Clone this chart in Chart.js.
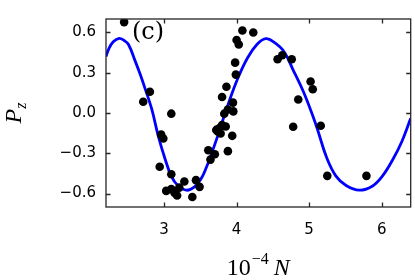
<!DOCTYPE html>
<html>
<head>
<meta charset="utf-8">
<script src="https://cdn.jsdelivr.net/npm/chart.js@4/dist/chart.umd.min.js"></script>
<style>
html,body{margin:0;padding:0;background:#fff;}
#wrap{width:415px;height:280px;}
</style>
</head>
<body>
<div id="wrap"><canvas id="c" width="415" height="280"></canvas></div>
<script>
// ---- data ----
const xTicks = [3, 4, 5, 6];
const yTicks = [-0.6, -0.3, 0.0, 0.3, 0.6];

// measured points (10^-4 N, P_z)
const measN = [2.45, 2.713, 2.805, 2.94, 2.96, 2.99, 3.03, 3.10, 3.10, 3.10, 3.146, 3.18, 3.21, 3.28, 3.39, 3.44, 3.49,
  3.61, 3.64, 3.70, 3.72, 3.74, 3.76, 3.78, 3.80, 3.85, 3.88, 3.94, 3.83, 3.955, 3.88, 3.95, 3.80, 3.86, 3.99, 3.98,
  4.00, 4.03, 4.08, 4.23, 4.565, 4.63, 4.76, 4.85, 4.78, 5.02, 5.05, 5.16, 5.25, 5.79];
const measPz = [0.677, 0.084, 0.158, -0.40, -0.16, -0.19, -0.58, -0.005, -0.456, -0.567, -0.595, -0.614, -0.556, -0.51, -0.626, -0.50, -0.55,
  -0.277, -0.347, -0.307, -0.126, -0.137, -0.114, -0.153, -0.09, -0.10, -0.284, -0.17, -0.005, 0.012, 0.026, 0.077, 0.119, 0.195, 0.286, 0.375,
  0.544, 0.51, 0.614, 0.60, 0.40, 0.43, 0.40, 0.10, -0.102, 0.235, 0.177, -0.095, -0.468, -0.468];

// fitted curve
const fitN = [2.20, 2.24, 2.30, 2.38, 2.45, 2.51, 2.60, 2.67, 2.74, 2.83, 2.92, 3.01, 3.10, 3.19, 3.31, 3.42, 3.51, 3.58,
  3.65, 3.74, 3.83, 3.90, 4.01, 4.15, 4.28, 4.40, 4.51, 4.65, 4.78, 4.92, 5.05, 5.12, 5.24, 5.37, 5.51, 5.69, 5.87,
  6.01, 6.15, 6.28, 6.40];
const fitPz = [0.42, 0.48, 0.53, 0.556, 0.54, 0.51, 0.39, 0.29, 0.18, 0.03, -0.17, -0.335, -0.47, -0.54, -0.575, -0.55, -0.49, -0.41,
  -0.31, -0.17, -0.02, 0.09, 0.25, 0.41, 0.51, 0.553, 0.53, 0.46, 0.32, 0.16, -0.02, -0.13, -0.33, -0.47, -0.54, -0.575, -0.545,
  -0.47, -0.35, -0.21, -0.04];

const xMin = 2.2, xMax = 6.4, yMin = -0.7, yMax = 0.7;

const fmt = v => {
  const s = Math.abs(v).toFixed(1);
  return (v < -1e-9 ? '\u2212' : '') + s;
};

const framePlugin = {
  id: 'frame',
  afterDraw(chart) {
    const ctx = chart.ctx;
    const a = chart.chartArea;
    const xs = chart.scales.x, ys = chart.scales.y;
    ctx.save();
    ctx.strokeStyle = '#262626';
    ctx.lineWidth = 1.3;
    ctx.strokeRect(a.left, a.top, a.right - a.left, a.bottom - a.top);
    const tl = 4.5;
    ctx.beginPath();
    xTicks.forEach(v => {
      const px = Math.round(xs.getPixelForValue(v)) + 0.5;
      ctx.moveTo(px, a.bottom); ctx.lineTo(px, a.bottom - tl);
      ctx.moveTo(px, a.top); ctx.lineTo(px, a.top + tl);
    });
    yTicks.forEach(v => {
      const py = Math.round(ys.getPixelForValue(v)) + 0.5;
      ctx.moveTo(a.left, py); ctx.lineTo(a.left + tl, py);
      ctx.moveTo(a.right, py); ctx.lineTo(a.right - tl, py);
    });
    ctx.stroke();

    ctx.fillStyle = '#000';
    // panel label
    ctx.font = '24px "DejaVu Serif"';
    ctx.textBaseline = 'alphabetic';
    ctx.textAlign = 'left';
    ctx.fillText('(c)', 132, 39);

    // x axis label: 10^-4 N
    const cx = (a.left + a.right) / 2;
    ctx.font = '24px "Liberation Serif"';
    const w10 = ctx.measureText('10').width;
    ctx.font = '16px "Liberation Serif"';
    const wSup = ctx.measureText('\u22124').width;
    ctx.font = 'italic 24px "Liberation Serif"';
    const wN = ctx.measureText('N').width;
    const gap = 6;
    const total = w10 + wSup + gap + wN;
    let x0 = cx - total / 2;
    const base = 275;
    ctx.font = '24px "Liberation Serif"';
    ctx.fillText('10', x0, base);
    ctx.font = '16px "Liberation Serif"';
    ctx.fillText('\u22124', x0 + w10 + 1, base - 11);
    ctx.font = 'italic 24px "Liberation Serif"';
    ctx.fillText('N', x0 + w10 + wSup + gap, base);

    // y axis label: P_z (rotated)
    ctx.font = 'italic 24px "Liberation Serif"';
    const wP = ctx.measureText('P').width;
    ctx.font = 'italic 16px "Liberation Serif"';
    const wz = ctx.measureText('z').width;
    const tot = wP + wz;
    const cy = (a.top + a.bottom) / 2;
    ctx.translate(21, cy + tot / 2);
    ctx.rotate(-Math.PI / 2);
    ctx.font = 'italic 24px "Liberation Serif"';
    ctx.fillText('P', 0, 0);
    ctx.font = 'italic 16px "Liberation Serif"';
    ctx.fillText('z', wP, 5);
    ctx.restore();
  }
};

new Chart(document.getElementById('c'), {
  data: {
    datasets: [
      {
        type: 'line',
        label: 'fit',
        data: fitN.map((x, i) => ({x: x, y: fitPz[i]})),
        borderColor: '#0000ff',
        borderWidth: 2.8,
        pointRadius: 0,
        tension: 0.4,
        fill: false,
        order: 2
      },
      {
        type: 'scatter',
        label: 'data',
        data: measN.map((x, i) => ({x: x, y: measPz[i]})),
        backgroundColor: '#000',
        borderWidth: 0,
        pointRadius: 4.3,
        order: 1
      }
    ]
  },
  options: {
    responsive: false,
    animation: false,
    devicePixelRatio: 1,
    clip: {left: 0, top: 0, right: 0, bottom: 0},
    layout: {padding: {top: 7, right: 3, left: 0, bottom: 0}},
    plugins: {legend: {display: false}, tooltip: {enabled: false}},
    scales: {
      x: {
        type: 'linear', min: xMin, max: xMax,
        afterBuildTicks: s => { s.ticks = xTicks.map(v => ({value: v})); },
        afterFit: s => { s.height = 73; },
        grid: {display: false, drawTicks: false},
        border: {display: false},
        ticks: {color: '#000', padding: 14, font: {family: 'DejaVu Sans', size: 15}, callback: v => String(v)}
      },
      y: {
        type: 'linear', min: yMin, max: yMax,
        afterBuildTicks: s => { s.ticks = yTicks.map(v => ({value: v})); },
        afterFit: s => { s.width = 106; },
        grid: {display: false, drawTicks: false},
        border: {display: false},
        ticks: {color: '#000', padding: 10, font: {family: 'DejaVu Sans', size: 15}, callback: v => fmt(v)}
      }
    }
  },
  plugins: [framePlugin]
});
</script>
</body>
</html>
